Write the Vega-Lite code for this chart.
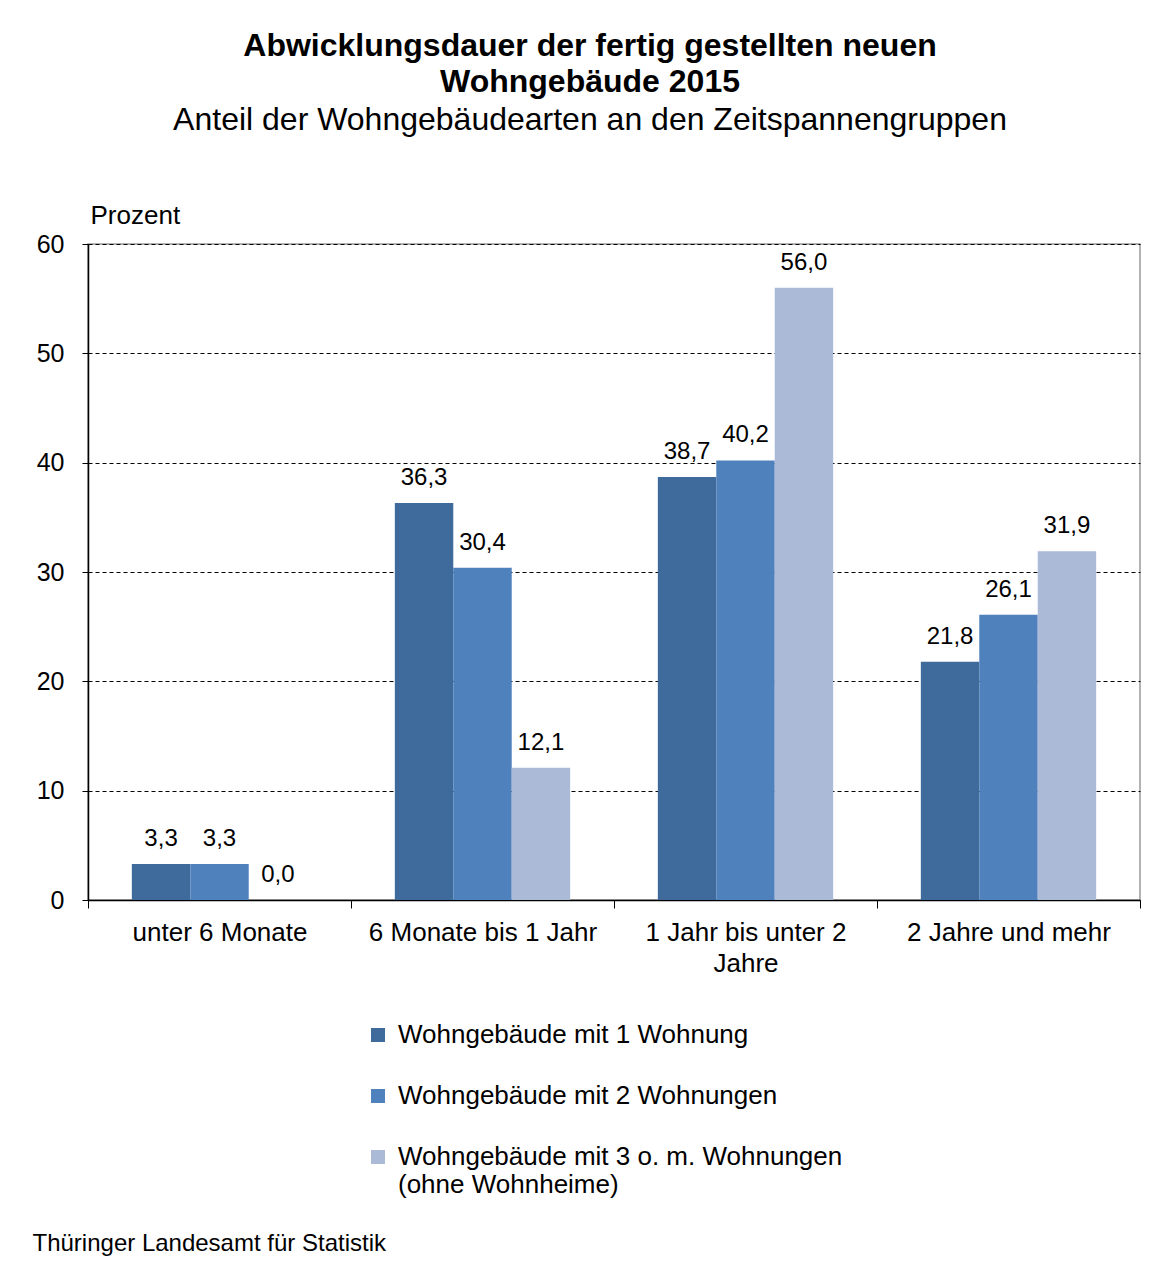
{
  "$schema": "https://vega.github.io/schema/vega-lite/v6.json",
  "autosize": {"type": "none"},
  "width": 1052,
  "height": 656,
  "padding": {"left": 88, "top": 244, "right": 26, "bottom": 369},
  "background": "white",
  "config": {
    "font": "Liberation Sans",
    "locale": {"number": {"decimal": ",", "thousands": ".", "grouping": [3], "currency": ["", " €"]}},
    "view": {"stroke": "#999999", "strokeWidth": 1.5},
    "axis": {"labelColor": "black", "titleColor": "black", "labelFont": "Liberation Sans", "titleFont": "Liberation Sans"}
  },
  "title": {
    "text": ["Abwicklungsdauer der fertig gestellten neuen", "Wohngebäude 2015"],
    "subtitle": "Anteil der Wohngebäudearten an den Zeitspannengruppen",
    "fontSize": 32,
    "fontWeight": "bold",
    "lineHeight": 36,
    "subtitleFontSize": 32,
    "subtitleColor": "black",
    "subtitleFont": "Liberation Sans",
    "subtitlePadding": 6,
    "color": "black",
    "anchor": "middle",
    "frame": "group",
    "dx": -24,
    "offset": 65
  },
  "data": {
    "values": [
      {"zeit": "unter 6 Monate", "art": "Wohngebäude mit 1 Wohnung", "wert": 3.3},
      {"zeit": "unter 6 Monate", "art": "Wohngebäude mit 2 Wohnungen", "wert": 3.3},
      {"zeit": "unter 6 Monate", "art": "Wohngebäude mit 3 o. m. Wohnungen (ohne Wohnheime)", "wert": 0.0},
      {"zeit": "6 Monate bis 1 Jahr", "art": "Wohngebäude mit 1 Wohnung", "wert": 36.3},
      {"zeit": "6 Monate bis 1 Jahr", "art": "Wohngebäude mit 2 Wohnungen", "wert": 30.4},
      {"zeit": "6 Monate bis 1 Jahr", "art": "Wohngebäude mit 3 o. m. Wohnungen (ohne Wohnheime)", "wert": 12.1},
      {"zeit": "1 Jahr bis unter 2 Jahre", "art": "Wohngebäude mit 1 Wohnung", "wert": 38.7},
      {"zeit": "1 Jahr bis unter 2 Jahre", "art": "Wohngebäude mit 2 Wohnungen", "wert": 40.2},
      {"zeit": "1 Jahr bis unter 2 Jahre", "art": "Wohngebäude mit 3 o. m. Wohnungen (ohne Wohnheime)", "wert": 56.0},
      {"zeit": "2 Jahre und mehr", "art": "Wohngebäude mit 1 Wohnung", "wert": 21.8},
      {"zeit": "2 Jahre und mehr", "art": "Wohngebäude mit 2 Wohnungen", "wert": 26.1},
      {"zeit": "2 Jahre und mehr", "art": "Wohngebäude mit 3 o. m. Wohnungen (ohne Wohnheime)", "wert": 31.9}
    ]
  },
  "encoding": {
    "x": {
      "field": "zeit",
      "type": "nominal",
      "sort": null,
      "scale": {"paddingInner": 0, "paddingOuter": 0},
      "axis": {
        "title": "Thüringer Landesamt für Statistik",
        "titleFontSize": 24,
        "titleFontWeight": "normal",
        "titleX": -56,
        "titleY": 343,
        "titleAlign": "left",
        "titleBaseline": "middle",
        "titleAnchor": "start",
        "labelAngle": 0,
        "labelFontSize": 26,
        "labelLimit": 400,
        "labelPadding": 11,
        "labelLineHeight": 31,
        "labelBaseline": "top",
        "labelExpr": "datum.label == '1 Jahr bis unter 2 Jahre' ? ['1 Jahr bis unter 2', 'Jahre'] : datum.label",
        "tickBand": "extent",
        "tickSize": 8,
        "tickColor": "black",
        "domainColor": "black",
        "domainWidth": 1.5,
        "grid": false
      }
    },
    "xOffset": {"field": "art", "type": "nominal", "sort": null, "scale": {"paddingOuter": 0.75, "paddingInner": 0}},
    "y": {
      "field": "wert",
      "type": "quantitative",
      "scale": {"domain": [0, 60], "nice": false},
      "axis": {
        "values": [0, 10, 20, 30, 40, 50, 60],
        "title": "Prozent",
        "titleFontSize": 26,
        "titleFontWeight": "normal",
        "titleAngle": 0,
        "titleX": 2,
        "titleY": -29,
        "titleAlign": "left",
        "titleBaseline": "middle",
        "labelFontSize": 25,
        "labelPadding": 18,
        "tickSize": 6,
        "tickColor": "black",
        "domainColor": "black",
        "domainWidth": 1.5,
        "grid": true,
        "gridColor": "black",
        "gridDash": [4, 3],
        "gridWidth": 1
      }
    }
  },
  "layer": [
    {
      "mark": {"type": "bar"},
      "encoding": {
        "color": {
          "field": "art",
          "type": "nominal",
          "sort": null,
          "scale": {"range": ["#3F6A9C", "#4F81BD", "#AABAD7"]},
          "legend": {
            "title": null,
            "orient": "none",
            "legendX": 277,
            "legendY": 778,
            "direction": "vertical",
            "padding": 0,
            "symbolType": "square",
            "symbolSize": 196,
            "symbolStrokeWidth": 0,
            "labelFontSize": 26,
            "labelColor": "black",
            "labelOffset": 7,
            "labelLimit": 800,
            "labelLineHeight": 31,
            "labelBaseline": "top",
            "rowPadding": 35,
            "labelExpr": "datum.label == 'Wohngebäude mit 3 o. m. Wohnungen (ohne Wohnheime)' ? ['Wohngebäude mit 3 o. m. Wohnungen', '(ohne Wohnheime)'] : datum.label",
            "encode": {"labels": {"update": {"dy": {"value": -13}}}}
          }
        }
      }
    },
    {
      "mark": {"type": "text", "fontSize": 24, "baseline": "middle", "dy": -25, "color": "black"},
      "encoding": {
        "text": {"field": "wert", "type": "quantitative", "format": ".1f"}
      }
    }
  ]
}
